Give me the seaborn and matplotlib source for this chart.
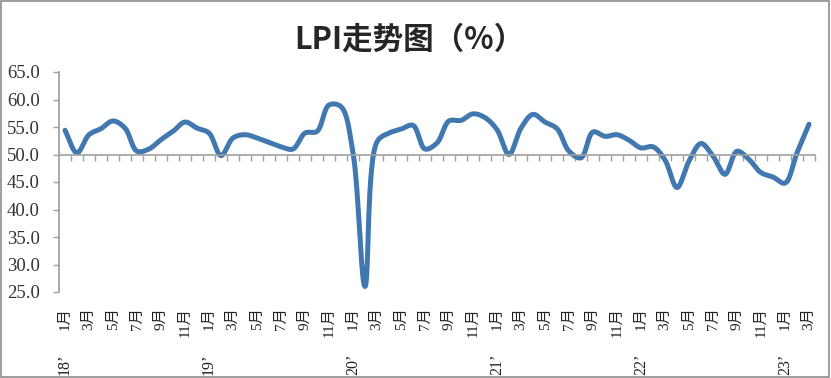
import numpy as np
import pandas as pd
import matplotlib
matplotlib.use('Agg')
import matplotlib.pyplot as plt
import matplotlib.transforms as mtransforms
from matplotlib.patches import Rectangle
import seaborn as sns

# monthly LPI, Jan 2018 .. Mar 2023
months = pd.period_range('2018-01', '2023-03', freq='M')
lpi = [54.4, 50.3, 53.6, 54.7, 56.1, 54.8, 50.6, 51.0, 52.7, 54.2, 55.9, 54.8,
       53.9, 49.8, 53.0, 53.6, 53.0, 52.2, 51.4, 51.0, 53.9, 54.2, 59.0, 58.7,
       50.3, 26.0, 52.3, 53.9, 54.6, 55.3, 51.0, 52.1, 56.1, 56.2, 57.4, 56.7,
       54.5, 50.0, 54.8, 57.3, 55.9, 54.7, 50.6, 49.4, 54.1, 53.3, 53.6, 52.6,
       51.2, 51.4, 49.0, 44.0, 48.8, 52.0, 49.7, 46.4, 50.6, 49.1, 46.7, 45.9,
       44.8, 50.3, 55.5]
month_labels = [f"{m.month}月" for m in months]
year_labels = [f"{m.year % 100}’" if m.month == 1 else "" for m in months]
yticks = [25, 30, 35, 40, 45, 50, 55, 60, 65]


def smooth(vals, sx=12.0, sy=5.5, n=30):
    # centripetal Catmull-Rom in screen space, close to a spreadsheet "smoothed line"
    P = np.column_stack([np.arange(len(vals)) * sx, np.asarray(vals, float) * sy])
    P = np.vstack([2 * P[0] - P[1], P, 2 * P[-1] - P[-2]])
    out = []
    for i in range(len(P) - 3):
        p0, p1, p2, p3 = P[i], P[i + 1], P[i + 2], P[i + 3]
        t0 = 0.0
        t1 = t0 + np.linalg.norm(p1 - p0) ** 0.5
        t2 = t1 + np.linalg.norm(p2 - p1) ** 0.5
        t3 = t2 + np.linalg.norm(p3 - p2) ** 0.5
        t = np.linspace(t1, t2, n, endpoint=False)[:, None]
        a1 = (t1 - t) / (t1 - t0) * p0 + (t - t0) / (t1 - t0) * p1
        a2 = (t2 - t) / (t2 - t1) * p1 + (t - t1) / (t2 - t1) * p2
        a3 = (t3 - t) / (t3 - t2) * p2 + (t - t2) / (t3 - t2) * p3
        b1 = (t2 - t) / (t2 - t0) * a1 + (t - t0) / (t2 - t0) * a2
        b2 = (t3 - t) / (t3 - t1) * a2 + (t - t1) / (t3 - t1) * a3
        out.append((t2 - t) / (t2 - t1) * b1 + (t - t1) / (t2 - t1) * b2)
    out.append(P[-2][None, :])
    c = np.vstack(out)
    return c[:, 0] / sx, c[:, 1] / sy


sns.set_theme(style='white')
plt.rcParams['font.family'] = ['Liberation Serif', 'Noto Sans CJK SC']

fig = plt.figure(figsize=(8.31, 3.78), dpi=100)
ax = fig.add_axes([59 / 831, 1 - 292 / 378, 756 / 831, 220 / 378])

sx, sy = smooth(lpi)
sns.lineplot(x=sx, y=sy, ax=ax, color='#4178b0', linewidth=3.6, sort=False,
             estimator=None)

ax.set_xlim(-0.5, len(lpi) - 0.5)
ax.set_ylim(25, 65)
ax.set_yticks(yticks)
ax.set_yticklabels([f"{v:.1f}" for v in yticks], fontsize=13.5, color='#333333')

gray = '#a0a0a0'
for s in ['top', 'right']:
    ax.spines[s].set_visible(False)
ax.spines['left'].set_color(gray)
ax.spines['bottom'].set_color(gray)
ax.spines['bottom'].set_linewidth(1.2)
ax.spines['bottom'].set_position(('data', 50))
ax.set_xticks(np.arange(len(lpi)) + 0.5)
ax.set_xticklabels([])
ax.tick_params(axis='x', direction='out', length=4.5, color=gray, width=1,
               bottom=True)
ax.tick_params(axis='y', direction='out', length=4, color=gray, width=1, pad=10,
               left=True)
ax.grid(False)
ax.set_xlabel('')
ax.set_ylabel('')

trans = mtransforms.blended_transform_factory(ax.transData, fig.transFigure)
for i, lab in enumerate(month_labels):
    if i % 2 == 0:
        ax.text(i, 1 - 307 / 378, lab, transform=trans, rotation=90, ha='center',
                va='top', fontsize=11, color='#222222')
    if year_labels[i]:
        ax.text(i, 1 - 354 / 378, year_labels[i], transform=trans, rotation=90,
                ha='center', va='top', fontsize=11.5, color='#222222')

fig.text(0.492, 1 - 40 / 378, 'LPI走势图（%）', ha='center', va='center',
         fontsize=22, fontweight='bold', family=['Noto Sans CJK SC', 'DejaVu Sans'])

fig.add_artist(Rectangle((0.001, 0.002), 0.997, 0.995, transform=fig.transFigure,
                         fill=False, edgecolor='#8c8c8c', linewidth=1.2))

fig.savefig('out.png', dpi=100)
